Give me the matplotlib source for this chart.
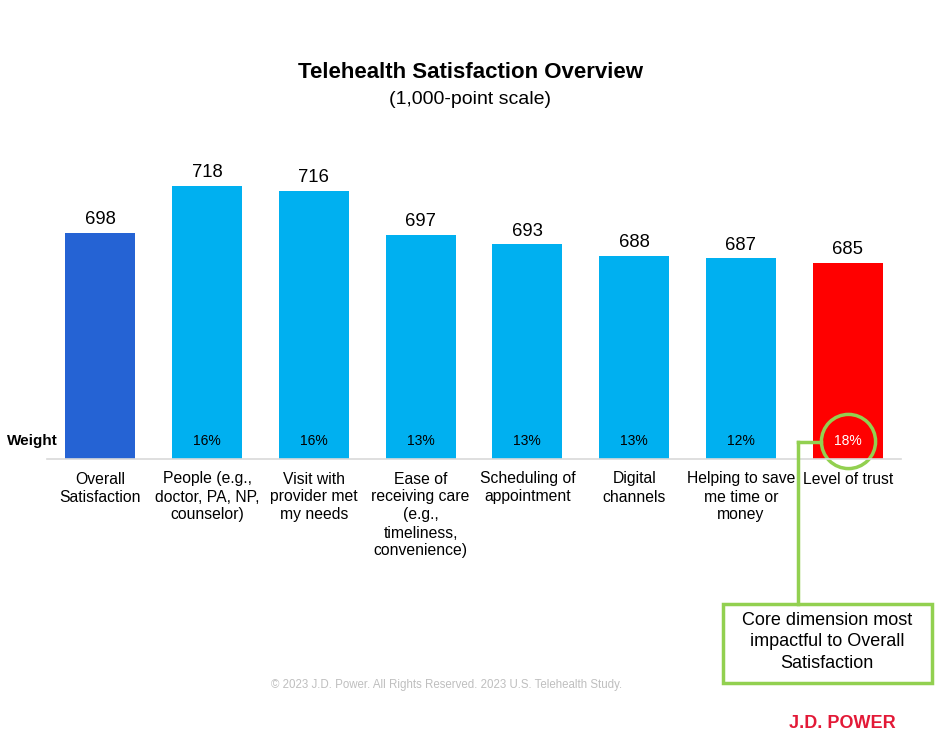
import matplotlib
matplotlib.use("Agg")
import matplotlib.pyplot as plt
from matplotlib.patches import Rectangle
from matplotlib.lines import Line2D

plt.rcParams['font.family'] = ['Liberation Sans', 'DejaVu Sans']

categories = ["Overall\nSatisfaction", "People (e.g.,\ndoctor, PA, NP,\ncounselor)",
              "Visit with\nprovider met\nmy needs", "Ease of\nreceiving care\n(e.g.,\ntimeliness,\nconvenience)",
              "Scheduling of\nappointment", "Digital\nchannels", "Helping to save\nme time or\nmoney",
              "Level of trust"]
scores = [698, 718, 716, 697, 693, 688, 687, 685]
weights = ["", "16%", "16%", "13%", "13%", "13%", "12%", "18%"]
colors = ["#2563D4", "#00B0F0", "#00B0F0", "#00B0F0", "#00B0F0", "#00B0F0", "#00B0F0", "#FF0000"]

W, H = 940, 739
fig = plt.figure(figsize=(W/100, H/100), dpi=100)
ax = fig.add_axes([47/W, 1-459/H, 854/W, 309/H])

x = list(range(len(scores)))
ax.bar(x, scores, width=0.655, color=colors, bottom=0)
ax.set_xlim(-0.5, len(scores)-0.5)
ax.set_ylim(601, 601 + 309/2.333)

for s in ["top", "right", "left"]:
    ax.spines[s].set_visible(False)
ax.spines["bottom"].set_color("#D9D9D9")
ax.spines["bottom"].set_linewidth(1.2)
ax.set_yticks([])
ax.set_xticks(x)
ax.set_xticklabels(categories, fontsize=11.3, linespacing=1.25, va="top")
ax.tick_params(axis="x", length=0, pad=9)

for i, v in enumerate(scores):
    ax.annotate(str(v), (i, v), xytext=(0, 9.5), textcoords="offset points",
                ha="center", va="center", fontsize=13.3)

wy = 601 + 18/2.333
for i, w in enumerate(weights):
    if w:
        ax.text(i, wy, w, ha="center", va="center", fontsize=10,
                color="white" if colors[i] == "#FF0000" else "black")
ax.text(-0.5 + 11/106.75, wy, "Weight", ha="right", va="center", fontsize=11, fontweight="bold")

green = "#92D050"
ax.plot([7], [wy], marker="o", ms=39, mfc="none", mec=green, mew=2.5, clip_on=False)

def fx(px):
    return px / W

def fy(py):
    return 1 - py / H

fig.add_artist(Line2D([fx(798), fx(821)], [fy(442), fy(442)], color=green, lw=2.5))
fig.add_artist(Line2D([fx(798), fx(798)], [fy(442), fy(604)], color=green, lw=2.5))
fig.add_artist(Rectangle((fx(723), fy(683)), (932-723)/W, (683-604)/H, fill=False,
                         edgecolor=green, lw=2.5, transform=fig.transFigure))
fig.text(fx(827), fy(642), "Core dimension most\nimpactful to Overall\nSatisfaction",
         ha="center", va="center", fontsize=13, linespacing=1.32)

fig.text(0.5, fy(73), "Telehealth Satisfaction Overview", ha="center", va="center",
         fontsize=16, fontweight="bold")
fig.text(0.5, fy(99), "(1,000-point scale)", ha="center", va="center", fontsize=14)
fig.text(fx(447), fy(685), "© 2023 J.D. Power. All Rights Reserved. 2023 U.S. Telehealth Study.",
         ha="center", va="center", fontsize=8.3, color="#BFBFBF")
fig.text(fx(842), fy(723), "J.D. POWER", ha="center", va="center", fontsize=13,
         fontweight="bold", color="#E31937")

fig.savefig("out.png", dpi=100)
